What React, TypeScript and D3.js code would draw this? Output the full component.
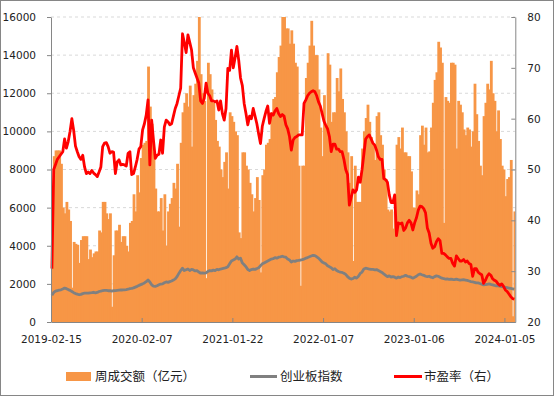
import { useEffect, useRef } from 'react';
import * as d3 from 'd3';

// x-axis labels sit every 50 weeks
const tickIdx = [0, 50, 100, 150, 200, 250];
const tickLabels = ['2019-02-15', '2020-02-07', '2021-01-22', '2022-01-07', '2023-01-06', '2024-01-05'];

// 周成交额（亿元）, weekly
const turnover = [
  3000, 8700, 9000, 9000, 9000, 8300, 6000, 5700, 6300, 5900, 5300, 1800, 4200, 4100, 4050, 3100, 4300, 4500, 4500, 4500,
  3300, 3800, 3400, 3600, 3700, 3700, 4800, 4700, 6300, 6300, 5700, 5400, 5700, 800, 3500, 4800, 4800, 5100, 4200, 4500,
  4500, 4000, 3700, 5200, 5300, 6700, 5800, 7700, 6800, 8600, 9300, 9400, 9500, 13400, 11300, 10400, 8900, 7000, 5800, 5800,
  6500, 4800, 6700, 4000, 5800, 6200, 6500, 7300, 7000, 8300, 5000, 9400, 11000, 11500, 12000, 11300, 12400, 9200, 11900, 12500,
  13700, 16000, 13000, 12000, 11600, 2300, 13600, 13000, 12200, 11500, 10600, 9500, 9200, 8000, 7600, 8400, 8900, 7000, 11000, 10800,
  10500, 10000, 9800, 4700, 4400, 8900, 8900, 8200, 8000, 7300, 6700, 5800, 6500, 7600, 6400, 2600, 7700, 8000, 9300, 9400,
  9600, 11000, 11700, 11800, 13100, 13900, 14500, 16000, 16000, 15400, 15400, 14600, 15300, 14600, 13600, 13400, 8200, 1900, 8200, 8200,
  12800, 13600, 14500, 15800, 14500, 14000, 14000, 12200, 10200, 8700, 11900, 10300, 14100, 13500, 10500, 11000, 11000, 12800, 12100, 13300,
  11700, 11000, 10000, 8900, 7300, 8700, 3200, 8200, 6300, 6300, 6300, 9100, 10000, 10700, 11400, 10500, 9700, 9300, 8500, 10800,
  11000, 9800, 9300, 8000, 7500, 5900, 5800, 5900, 4900, 5800, 9300, 9700, 9100, 10200, 8900, 8900, 8700, 8700, 7900, 6000,
  6000, 6900, 6700, 9800, 10300, 9300, 10200, 8900, 8950, 10200, 11500, 12700, 13100, 14700, 14400, 13600, 5200, 11800, 11600, 11500,
  13600, 13600, 13500, 9100, 11600, 11400, 11000, 10100, 9800, 10200, 10100, 9200, 10000, 12500, 10900, 9500, 8200, 7700, 10800, 11500,
  12500, 12200, 13700, 12000, 11600, 10000, 11100, 9600, 8200, 8000, 6600, 7500, 7600, 8500, 300, 5800,
];

// 创业板指数
const chinext = [
  1400, 1550, 1620, 1650, 1670, 1690, 1730, 1780, 1750, 1700, 1660, 1600, 1540, 1490, 1460, 1430, 1450, 1490, 1510, 1520,
  1510, 1530, 1540, 1560, 1530, 1550, 1600, 1620, 1640, 1660, 1660, 1640, 1650, 1620, 1640, 1650, 1660, 1670, 1680, 1680,
  1690, 1700, 1720, 1750, 1760, 1790, 1830, 1870, 1920, 1960, 2000, 2050, 2120, 2200, 2100, 1950, 1880, 1870, 1900, 1950,
  1990, 2000, 2060, 2100, 2080, 2120, 2150, 2200, 2260, 2380, 2550, 2700, 2820, 2700, 2740, 2780, 2700, 2760, 2730, 2680,
  2700, 2620, 2560, 2580, 2560, 2580, 2650, 2700, 2680, 2720, 2700, 2760, 2740, 2780, 2800, 2820, 2850, 2900, 3050, 3200,
  3250, 3300, 3420, 3300, 3350, 3100, 3000, 2900, 2750, 2700, 2750, 2780, 2760, 2800, 2850, 2950, 3050, 3100, 3150, 3200,
  3250, 3300, 3320, 3380, 3350, 3400, 3420, 3450, 3420, 3400, 3300, 3250, 3150, 3200, 3180, 3220, 3230, 3250, 3270, 3300,
  3350, 3380, 3420, 3460, 3500, 3480, 3420, 3350, 3250, 3150, 3100, 3050, 2950, 2900, 2850, 2750, 2800, 2700, 2650, 2620,
  2600, 2560, 2500, 2380, 2300, 2250, 2280, 2350, 2300, 2400, 2550, 2620, 2780, 2820, 2800, 2780, 2760, 2760, 2740, 2750,
  2700, 2650, 2600, 2520, 2450, 2380, 2420, 2360, 2380, 2350, 2300, 2360, 2330, 2380, 2400, 2450, 2400, 2380, 2350, 2300,
  2350, 2400, 2480, 2520, 2480, 2450, 2400, 2380, 2400, 2350, 2320, 2380, 2420, 2400, 2350, 2300, 2280, 2250, 2260, 2240,
  2250, 2230, 2220, 2250, 2220, 2200, 2210, 2220, 2200, 2180, 2150, 2120, 2100, 2080, 2050, 2050, 2020, 1980, 1950, 1960,
  1980, 2000, 1970, 1950, 1920, 1900, 1900, 1880, 1860, 1840, 1820, 1800, 1780, 1760, 1740, 1720,
];

// 市盈率（右）
const pe = [
  30.5, 50, 51, 52, 52.5, 53, 53.5, 56, 54.2, 55.5, 57.5, 60, 57.7, 54.6, 53.5, 52.5, 52, 52.8, 50.5, 49.2,
  49.5, 49.2, 49.8, 49.3, 49, 48.6, 49.5, 50.5, 54.5, 55.2, 55.3, 54.5, 53.2, 53.5, 53.4, 49.2, 51.5, 51.9, 50.9, 51,
  50.9, 50.7, 53.2, 53.5, 49, 49.2, 50.5, 52, 54, 54.5, 57.8, 59, 60.7, 63.7, 50.9, 59.7, 55.8, 52.2, 52.8, 53,
  55.8, 53.2, 58.4, 59.7, 59.4, 58.8, 59, 60.5, 62, 63, 64.5, 66, 76.7, 75, 73, 76.5, 75, 73.5, 70, 69,
  68, 67, 63.5, 63, 64, 67, 65, 64.5, 63.5, 63.5, 63.3, 63.5, 61.7, 63.5, 61, 59.7, 62, 69.9, 69.5, 73.5,
  70, 72, 74.2, 71.5, 68, 66.5, 63, 61, 58.8, 60.5, 60, 62, 60.5, 59, 57, 55.1, 58.5, 60, 61.4, 62.5,
  59.1, 61, 60.7, 61.5, 62, 61, 60.4, 60.8, 60.5, 58.8, 58, 56.5, 53.8, 55.8, 56.3, 56.5, 56.8, 56.8, 56.8, 63,
  63.7, 64.5, 65, 65.3, 65.5, 65.3, 64.5, 63.3, 62.5, 61, 59.5, 58.7, 58, 56.5, 53.5, 55, 55, 54, 54, 53.5,
  53.5, 52, 50, 49, 43, 44.5, 46, 45.5, 46, 48.5, 47.5, 50, 53, 56, 56.5, 56.8, 56, 55.2, 54.8, 53.8,
  52.5, 52, 52, 48.2, 48, 47.5, 45, 43.5, 43.5, 45, 37, 39.5, 39.3, 39.5, 38, 38.5, 39.5, 40, 39.5, 38.1,
  39.5, 40.5, 42, 42.8, 42.7, 42.3, 41.5, 38.5, 37.5, 35.5, 34.5, 34.8, 35.8, 36.4, 36, 33.5, 33.5, 33.2, 32.8, 32.5,
  32.5, 31.5, 31, 33, 32.5, 32, 32, 32.3, 31.8, 32, 31.5, 31.3, 29, 30.5, 30.5, 29.8, 29.5, 29.3, 27.6, 28.2,
  29, 29.5, 29.2, 28.5, 28.2, 28, 27.5, 27.2, 27.5, 27, 26.3, 26, 25.5, 25, 24.6, 24.5,
];

const W = 554;
const H = 396;
const FONT = '"DejaVu Sans", sans-serif';
const CJK = '"Noto Sans CJK SC", sans-serif';
const AXIS = '#868686';

function App() {
  const svgRef = useRef<SVGSVGElement>(null);

  useEffect(() => {
    if (!svgRef.current) return;
    const svg = d3.select(svgRef.current);
    svg.selectAll('*').remove();

    const left = 51, right = 515.3, top = 17, bottom = 322;

    const x = d3.scaleBand<number>()
      .domain(d3.range(turnover.length))
      .range([left, right])
      .padding(0);
    const y = d3.scaleLinear().domain([0, 16000]).range([bottom, top]);
    const y2 = d3.scaleLinear().domain([20, 80]).range([bottom, top]);

    // outer frame
    svg.append('rect')
      .attr('x', 0.5).attr('y', 0.5)
      .attr('width', W - 1).attr('height', H - 1)
      .attr('fill', '#fff').attr('stroke', AXIS);

    // dashed grid
    svg.append('g')
      .selectAll('line')
      .data(d3.range(2000, 16001, 2000))
      .enter().append('line')
      .attr('x1', left).attr('x2', right)
      .attr('y1', d => y(d)).attr('y2', d => y(d))
      .attr('stroke', '#d9d9d9')
      .attr('stroke-dasharray', '3,3');

    // bars (slight overlap so no seams show between neighbours)
    svg.append('g')
      .selectAll('rect')
      .data(turnover)
      .enter().append('rect')
      .attr('x', (_, i) => x(i)!)
      .attr('width', (_, i) => (i === turnover.length - 1 ? x.bandwidth() : x.bandwidth() + 1))
      .attr('y', d => y(d))
      .attr('height', d => bottom - y(d))
      .attr('fill', '#f79646');

    const grayLine = d3.line<number>()
      .x((_, i) => x(i)! + x.bandwidth() / 2)
      .y(d => y(d));
    svg.append('path')
      .datum(chinext)
      .attr('fill', 'none')
      .attr('stroke', '#808080')
      .attr('stroke-width', 2.8)
      .attr('stroke-linejoin', 'round')
      .attr('d', grayLine);

    const redLine = d3.line<number>()
      .x((_, i) => x(i)! + x.bandwidth() / 2)
      .y(d => y2(d));
    svg.append('path')
      .datum(pe)
      .attr('fill', 'none')
      .attr('stroke', '#ff0000')
      .attr('stroke-width', 2.8)
      .attr('stroke-linejoin', 'round')
      .attr('d', redLine);

    // axes
    const styleAxis = (g: any) => {
      g.select('.domain').attr('stroke', AXIS);
      g.selectAll('.tick line').attr('stroke', AXIS);
      g.selectAll('.tick text')
        .attr('fill', '#222')
        .style('font-family', FONT)
        .style('font-size', '10.5px');
    };

    svg.append('g')
      .attr('transform', `translate(${left},0)`)
      .call(d3.axisLeft(y).tickValues(d3.range(0, 16001, 2000)).tickSizeInner(4).tickSizeOuter(0).tickPadding(11).tickFormat(d3.format('d')))
      .call(styleAxis);

    svg.append('g')
      .attr('transform', `translate(${right},0)`)
      .call(d3.axisRight(y2).tickValues(d3.range(20, 81, 10)).tickSizeInner(-4).tickSizeOuter(0).tickPadding(12))
      .call(styleAxis);

    const xTick = d3.scaleLinear().domain([0, turnover.length]).range([left, right]);
    svg.append('g')
      .attr('transform', `translate(0,${bottom})`)
      .call(d3.axisBottom(xTick)
        .tickValues(tickIdx)
        .tickSizeInner(-4).tickSizeOuter(0).tickPadding(14)
        .tickFormat((_, i) => tickLabels[i]))
      .call(styleAxis);

    // legend
    const lg = svg.append('g').style('font-family', CJK).style('font-size', '12.5px').attr('fill', '#222');
    lg.append('rect').attr('x', 66).attr('y', 372).attr('width', 25).attr('height', 9).attr('fill', '#f79646');
    lg.append('text').attr('x', 95).attr('y', 381).text('周成交额（亿元）');
    lg.append('line').attr('x1', 250).attr('x2', 277).attr('y1', 376.5).attr('y2', 376.5)
      .attr('stroke', '#808080').attr('stroke-width', 3);
    lg.append('text').attr('x', 280).attr('y', 381).text('创业板指数');
    lg.append('line').attr('x1', 394).attr('x2', 422).attr('y1', 376.5).attr('y2', 376.5)
      .attr('stroke', '#ff0000').attr('stroke-width', 3);
    lg.append('text').attr('x', 424).attr('y', 381).text('市盈率（右）');
  }, []);

  return (
    <div style={{ position: 'absolute', left: 0, top: 0 }}>
      <svg ref={svgRef} width={W} height={H} style={{ display: 'block' }}></svg>
    </div>
  );
}

export default App;
